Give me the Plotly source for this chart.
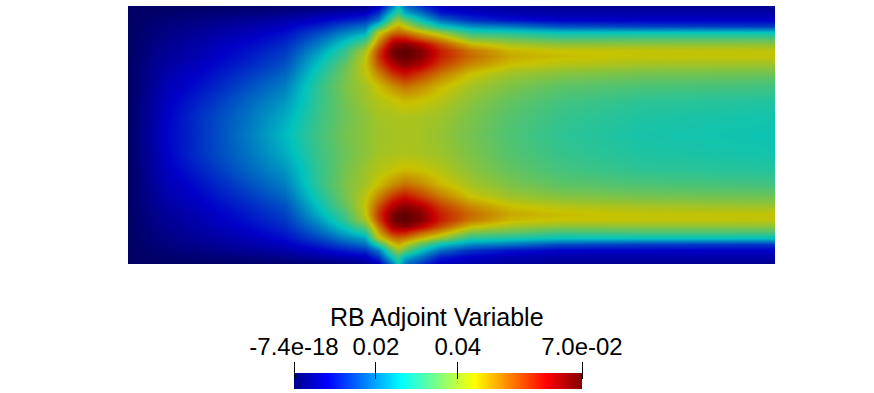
import plotly.graph_objects as go

# Field sample positions (domain length units)
x_grid = [0, 37, 72, 122, 157, 192, 217, 237, 250, 264, 270, 277, 292, 312, 342, 382, 432, 512, 647]
y_top = [0, 7, 14, 20, 26, 32, 38, 44, 50, 58, 68, 80, 94, 110, 129]
domain_height = 258

# Adjoint variable, as percent of the maximum value
field_top = [
    [0, 0, 0, 0.5, 1, 2, 3, 5, 9, 27, 38, 26, 18, 10, 8, 6, 5, 5, 5],
    [0, 1, 2, 3, 4.5, 7, 9, 10, 18, 38, 44, 34, 27, 15, 11, 9, 8, 8, 8],
    [0, 2, 3.5, 6, 8, 11.5, 15, 18, 27, 50, 57, 50, 38, 26, 18, 14, 11.5, 11.5, 11.5],
    [0, 3, 5, 8, 10.5, 16, 22, 26, 42, 62, 66, 61, 50, 38, 30, 27, 22, 20, 19],
    [0, 3.5, 6, 9.5, 13, 21, 28, 33, 60, 72, 74, 72, 65, 56, 42, 40, 37, 37, 37],
    [0, 4, 7, 11, 15, 25, 34, 42, 66, 83, 85, 84, 76, 68, 53, 50, 46, 47, 47],
    [0, 5, 8, 12.5, 17, 28.5, 39, 50, 72, 92, 94, 96, 90, 78, 64, 58, 55, 55, 55],
    [0, 5.5, 8.5, 14, 18.5, 32, 44, 58, 78, 97, 99, 100, 96, 84, 72, 64, 62, 61.5, 61],
    [0, 6, 9, 15, 20, 35, 46, 61, 80, 96, 99, 100, 96, 84, 74, 66, 63.5, 62, 62],
    [0, 7, 10.5, 16.5, 22, 38, 50, 62, 77, 90, 93, 95, 91, 80, 70, 63, 60, 58, 57],
    [0, 8, 12, 19, 25, 41, 52, 61, 70, 80, 83, 85, 80, 72, 62.5, 57, 54, 52, 51],
    [0, 9, 13.5, 22, 28, 44, 53, 58, 63, 69, 71, 73, 70, 64, 58, 53, 49, 47, 45.5],
    [0, 10, 16, 25, 31, 44, 52, 57, 60, 62, 63, 64, 63, 60, 55, 50, 46, 43, 41.5],
    [0, 11, 18, 27, 34, 45, 51, 55, 58, 58.5, 59, 59, 58.5, 57, 53, 48, 44, 41, 39.5],
    [0, 11.5, 18, 28, 36, 46, 52, 55, 57, 58, 58, 58.5, 58, 56, 52, 47, 43, 40, 38.5],
]

data_max = 0.0703
tick_values = [0, 0.02, 0.04, 0.0703]
tick_labels = ["-7.4e-18", "0.02", "0.04", "7.0e-02"]
legend_title = "RB Adjoint Variable"

stops = [0, 0.115, 0.37, 0.5, 0.625, 0.875, 1]
field_colors = ["rgb(0,0,100)", "rgb(0,0,200)", "rgb(0,195,190)", "rgb(100,195,95)",
                "rgb(200,195,0)", "rgb(200,0,0)", "rgb(95,0,0)"]
bar_colors = ["rgb(0,0,143)", "rgb(0,0,255)", "rgb(0,255,255)", "rgb(128,255,128)",
              "rgb(255,255,0)", "rgb(255,0,0)", "rgb(128,0,0)"]

y_grid = y_top + [domain_height - d for d in reversed(y_top[:-1])]
rows = field_top + field_top[-2::-1]
z = [[v / 100 * data_max for v in row] for row in rows]
bar_x = [s * data_max for s in stops]

W, H = 874, 393
fig = go.Figure()
fig.add_trace(go.Heatmap(x=x_grid, y=y_grid, z=z, zmin=0, zmax=data_max, zsmooth="best",
                         colorscale=list(zip(stops, field_colors)), showscale=False,
                         hoverinfo="skip", xaxis="x", yaxis="y"))
fig.add_trace(go.Heatmap(x=bar_x, y=[0, 1], z=[bar_x, bar_x], zmin=0, zmax=data_max, zsmooth="best",
                         colorscale=list(zip(stops, bar_colors)), showscale=False,
                         hoverinfo="skip", xaxis="x2", yaxis="y2"))

fig.update_layout(
    template="none",
    width=W, height=H, margin=dict(l=0, r=0, t=0, b=0),
    paper_bgcolor="white", plot_bgcolor="white", showlegend=False,
    font=dict(family="Liberation Sans", size=24, color="black"),
    xaxis=dict(domain=[128 / W, 775 / W], range=[0, 647], visible=False, automargin=False),
    yaxis=dict(domain=[1 - 264 / H, 1 - 6 / H], range=[258, 0], visible=False, automargin=False),
    xaxis2=dict(domain=[294 / W, 582 / W], range=[0, data_max], side="top", anchor="free",
                position=1 - 379 / H, showgrid=False, zeroline=False, showline=False, automargin=False,
                ticks="outside", ticklen=17, tickwidth=1, tickcolor="black", ticklabelstandoff=-3,
                tickvals=tick_values, ticktext=tick_labels, tickangle=0,
                tickfont=dict(family="Liberation Sans", size=24, color="black")),
    yaxis2=dict(domain=[1 - 389 / H, 1 - 373 / H], range=[0, 1], visible=False, anchor="x2", automargin=False),
    annotations=[dict(text=legend_title, xref="paper", yref="paper", x=437 / W, y=1 - 317 / H,
                      xanchor="center", yanchor="middle", showarrow=False,
                      font=dict(family="Liberation Sans", size=25, color="black"))],
)
fig.write_html("out.html", config={"displayModeBar": False}, post_script="document.body.style.margin='0';")
